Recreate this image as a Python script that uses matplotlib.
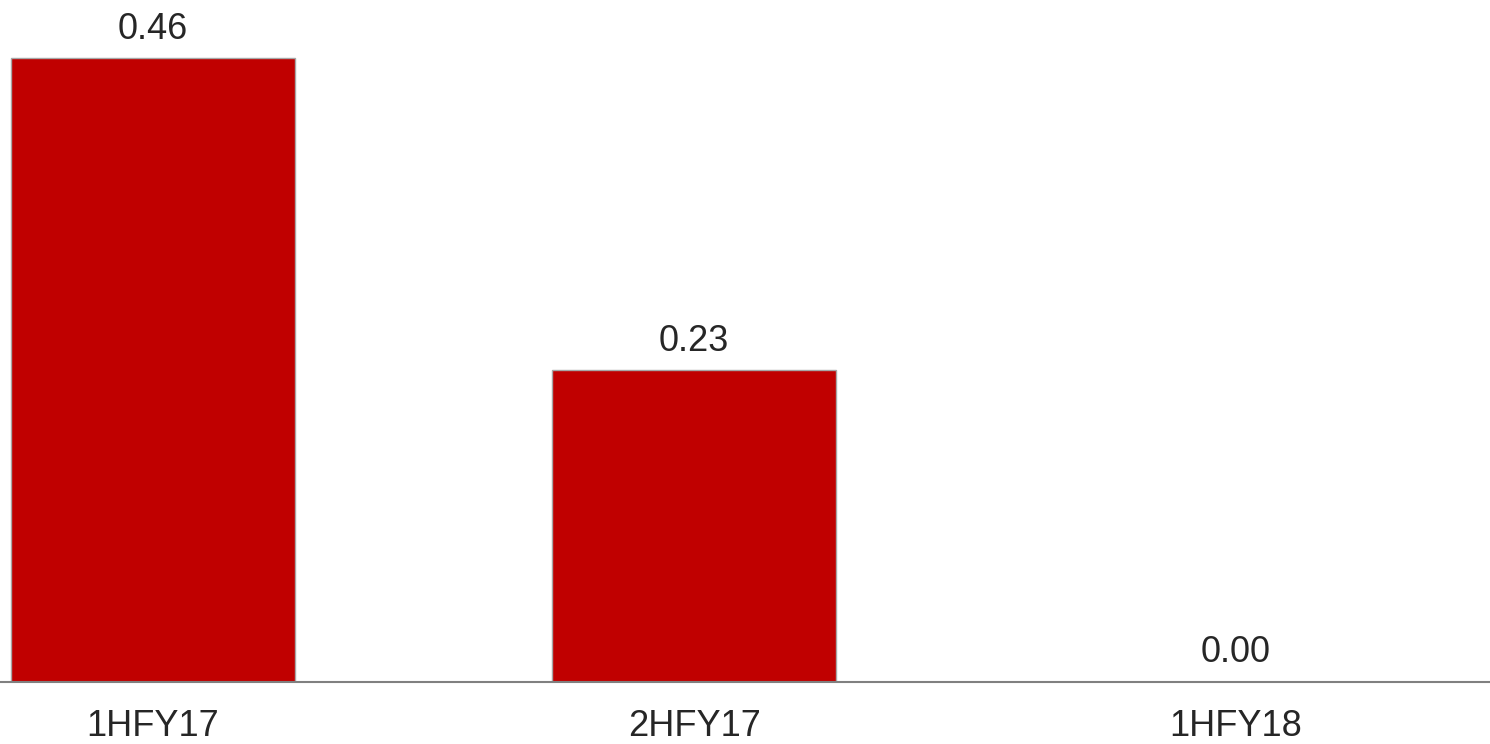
import matplotlib
matplotlib.use("Agg")
import matplotlib.pyplot as plt

# half-year periods and their values
periods = ["1HFY17", "2HFY17", "1HFY18"]
values = [0.46, 0.23, 0.00]
value_labels = ["0.46", "0.23", "0.00"]

plt.rcParams["font.family"] = ["Liberation Sans", "DejaVu Sans"]

fig = plt.figure(figsize=(14.9, 7.44), dpi=100)
ax = fig.add_axes([0, 0.084, 1, 0.916])

pos = list(range(len(periods)))
ax.bar(pos, values, width=0.525, color="#C00000",
       edgecolor="#A6A6A6", linewidth=1.0, zorder=2)

# value labels above each bar
for x, v, lab in zip(pos, values, value_labels):
    ax.annotate(lab, (x, v), xytext=(0, 13.7), textcoords="offset points",
                ha="center", va="baseline", fontsize=26, color="#262626")

ax.set_xlim(-0.283, 2.471)
ax.set_ylim(0, 0.503)

ax.set_xticks(pos)
ax.set_xticklabels(periods, fontsize=26, color="#262626")
ax.tick_params(axis="x", length=0, pad=19.5)
ax.set_yticks([])

for side in ["left", "right", "top"]:
    ax.spines[side].set_visible(False)
ax.spines["bottom"].set_color("#808080")
ax.spines["bottom"].set_linewidth(1.5)
ax.spines["bottom"].set_zorder(3)

fig.savefig("out.png", dpi=100, facecolor="white")
